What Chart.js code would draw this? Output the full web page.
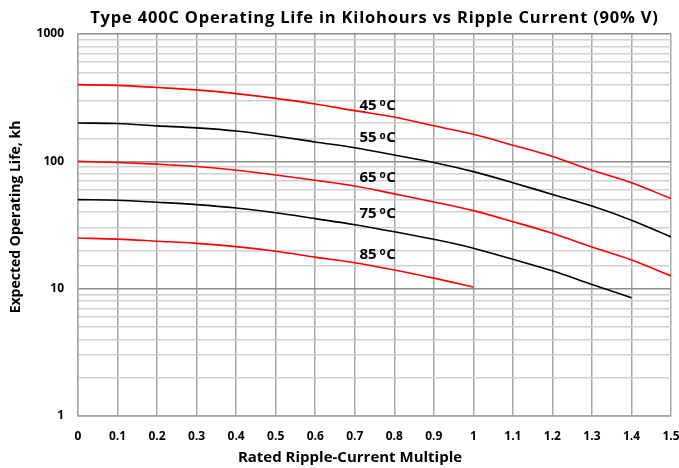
<!DOCTYPE html>
<html>
<head>
<meta charset="utf-8">
<script src="https://cdn.jsdelivr.net/npm/chart.js@4"></script>
<style>
    html, body { margin: 0; padding: 0; background: #fff; }
    #wrap { width: 679px; height: 468px; }
</style>
</head>
<body>
<div id="wrap"><canvas id="life-chart" width="679" height="468"></canvas></div>
<script>
// Ripple-current multiple (x axis)
const multiples = [0, 0.1, 0.2, 0.3, 0.4, 0.5, 0.6, 0.7, 0.8, 0.9, 1.0, 1.1, 1.2, 1.3, 1.4, 1.5];

// Expected life in kh, one array per temperature
const life45 = [400, 395, 380, 364, 340, 312, 282, 250, 223, 190, 163, 134, 109, 85, 68, 51];
const life55 = [200, 198, 190, 183, 173, 158, 142, 128, 112, 98, 83, 68, 55, 44.5, 34.5, 25.5];
const life65 = [100, 98, 95, 91, 85, 78, 71, 64, 55.5, 48, 41, 33.6, 27.2, 21.2, 16.8, 12.6];
const life75 = [50, 49.5, 47.7, 45.7, 43, 39.5, 35.5, 31.8, 28, 24.4, 20.8, 17, 13.8, 10.8, 8.5];
const life85 = [25, 24.5, 23.6, 22.7, 21.4, 19.7, 17.7, 16, 14, 12.1, 10.3];

// Curve labels and where they sit (data units)
const curveLabels = ['45', '55', '65', '75', '85'];
const labelX = 0.712;
const labelY = [275, 152, 75, 39, 18.5];

const xTicks = [0, 0.1, 0.2, 0.3, 0.4, 0.5, 0.6, 0.7, 0.8, 0.9, 1, 1.1, 1.2, 1.3, 1.4, 1.5];
const yDecades = [1, 10, 100, 1000];

const FONT = '"Open Sans", Lato, sans-serif';

function toPoints(values) {
    return values.map((v, i) => ({ x: multiples[i], y: v }));
}

function curve(label, values, color) {
    return {
        label: label,
        data: toPoints(values),
        borderColor: color,
        borderWidth: 1.6,
        pointRadius: 0,
        fill: false,
        cubicInterpolationMode: 'monotone'
    };
}

// Titles and the curve labels
const textPlugin = {
    id: 'chartText',
    afterDatasetsDraw(chart) {
        const ctx = chart.ctx;
        const area = chart.chartArea;
        const xs = chart.scales.x;
        const ys = chart.scales.y;
        ctx.save();
        ctx.fillStyle = '#000';
        ctx.textBaseline = 'middle';

        // curve temperature labels, e.g. "45 ºC"
        curveLabels.forEach((t, i) => {
            const px = xs.getPixelForValue(labelX);
            const py = ys.getPixelForValue(labelY[i]);
            ctx.font = 'bold 15px ' + FONT;
            ctx.textAlign = 'left';
            const w1 = ctx.measureText(t + ' ').width;
            ctx.fillText(t + ' ', px, py);
            ctx.font = 'bold 10px ' + FONT;
            const w2 = ctx.measureText('o').width;
            ctx.fillText('o', px + w1 - 1, py - 2);
            ctx.font = 'bold 15px ' + FONT;
            ctx.fillText('C', px + w1 + w2 - 0.5, py);
        });

        // main title
        ctx.textAlign = 'center';
        ctx.font = 'bold 16.5px ' + FONT;
        if ('letterSpacing' in ctx) ctx.letterSpacing = '0.8px';
        ctx.fillText('Type 400C Operating Life in Kilohours vs Ripple Current (90% V)', (area.left + area.right) / 2, 18);
        if ('letterSpacing' in ctx) ctx.letterSpacing = '0px';

        // x axis title
        ctx.font = 'bold 15px ' + FONT;
        ctx.fillText('Rated Ripple-Current Multiple', 350, 458);

        // y axis title
        ctx.font = 'bold 14px ' + FONT;
        ctx.translate(16, 217);
        ctx.rotate(-Math.PI / 2);
        ctx.fillText('Expected Operating Life, kh', 0, 0);
        ctx.restore();
    }
};

new Chart(document.getElementById('life-chart'), {
    type: 'line',
    data: {
        datasets: [
            curve('45 °C', life45, '#ff0000'),
            curve('55 °C', life55, '#000000'),
            curve('65 °C', life65, '#ff0000'),
            curve('75 °C', life75, '#000000'),
            curve('85 °C', life85, '#ff0000')
        ]
    },
    options: {
        responsive: false,
        animation: false,
        layout: { padding: { top: 34, right: 8, left: 0, bottom: 0 } },
        plugins: {
            legend: { display: false },
            tooltip: { enabled: false },
            title: { display: false }
        },
        scales: {
            x: {
                type: 'linear',
                min: 0,
                max: 1.5,
                afterFit: function(scale) {
                    scale.height = 52;
                    scale.paddingLeft = 0;
                    scale.paddingRight = 0;
                },
                afterBuildTicks: function(scale) {
                    scale.ticks = xTicks.map(v => ({ value: v }));
                },
                grid: { color: '#a6a6a6', lineWidth: 1.5, drawTicks: false },
                border: { color: '#a6a6a6', width: 1.5 },
                ticks: {
                    padding: 13,
                    color: '#000',
                    font: { family: FONT, size: 12, weight: 'bold' },
                    maxRotation: 0,
                    autoSkip: false,
                    callback: function(value) { return String(Math.round(value * 10) / 10); }
                }
            },
            y: {
                type: 'logarithmic',
                min: 1,
                max: 1000,
                afterFit: function(scale) {
                    scale.width = 78;
                    scale.paddingTop = 0;
                    scale.paddingBottom = 0;
                },
                grid: {
                    drawTicks: false,
                    color: function(c) {
                        return yDecades.includes(c.tick.value) ? '#8c8c8c' : '#d0d0d0';
                    },
                    lineWidth: 1.5
                },
                border: { color: '#a6a6a6', width: 1.5 },
                ticks: {
                    padding: 14,
                    color: '#000',
                    autoSkip: false,
                    font: { family: FONT, size: 12, weight: 'bold' },
                    callback: function(value) {
                        return yDecades.includes(value) ? String(value) : '';
                    }
                }
            }
        }
    },
    plugins: [textPlugin]
});
</script>
</body>
</html>
